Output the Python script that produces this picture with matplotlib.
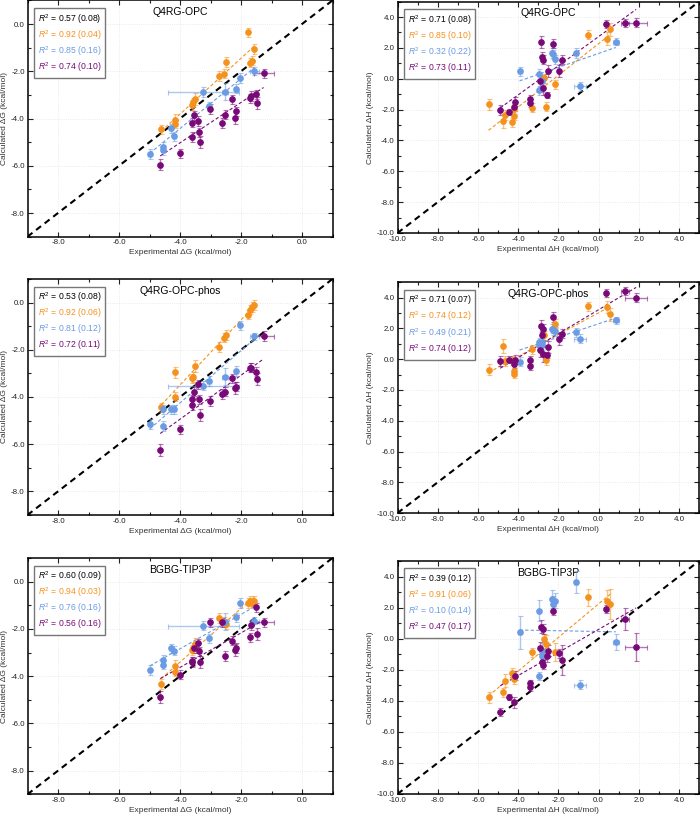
import numpy as np
import matplotlib
matplotlib.use('Agg')
import matplotlib.pyplot as plt
from matplotlib.ticker import MultipleLocator, FormatStrFormatter
from matplotlib.lines import Line2D

plt.rcParams['font.family'] = ['Liberation Sans', 'DejaVu Sans']
plt.rcParams['mathtext.fontset'] = 'custom'
plt.rcParams['mathtext.rm'] = 'Liberation Sans'
plt.rcParams['mathtext.it'] = 'Liberation Sans:italic'

ORANGE = '#f5921e'
BLUE = '#6a9be3'
PURPLE = '#780a78'

models = ['Q4RG-OPC', 'Q4RG-OPC-phos', 'BGBG-TIP3P']

# ---- free energies (dG) ----
orange_exp_g = [-1.57, -1.65, -1.72, -1.78, -2.49, -2.57, -2.73, -3.52, -3.56, -3.60, -4.15, -4.17, -4.61]
orange_exp_g_err = [0.03] * 13
orange_g_opc = [-1.06, -1.55, -1.64, -0.35, -1.60, -2.10, -2.20, -3.18, -3.32, -3.43, -4.07, -4.22, -4.46]
orange_g_phos = [-0.10, -0.18, -0.30, -0.51, -1.38, -1.48, -1.89, -2.69, -3.15, -3.21, -2.96, -3.99, -4.44]
orange_g_tip3p = [-0.83, -0.89, -0.83, -0.90, -1.79, -1.70, -1.54, -2.64, -2.81, -2.89, -3.55, -3.81, -4.34]
orange_g_err = [0.2, 0.2, 0.2, 0.2, 0.2, 0.2, 0.2, 0.25, 0.2, 0.2, 0.25, 0.2, 0.2]

blue_exp_g = [-1.56, -2.03, -2.15, -2.51, -3.23, -3.05, -4.31, -4.19, -4.57, -4.57, -4.99]
blue_exp_g_err = [0.15, 0.03, 0.05, 0.10, 1.15, 0.05, 0.05, 0.05, 0.03, 0.03, 0.05]
blue_g_opc = [-1.99, -2.29, -2.73, -2.86, -2.87, -3.48, -4.42, -4.75, -5.20, -5.34, -5.51]
blue_g_phos = [-1.42, -0.96, -2.89, -3.14, -3.52, -3.32, -4.52, -4.52, -4.52, -5.23, -5.15]
blue_g_tip3p = [-1.65, -0.90, -1.51, -1.69, -1.86, -2.40, -2.82, -2.92, -3.30, -3.51, -3.74]
blue_g_err = [0.15, 0.2, 0.2, 0.35, 0.2, 0.2, 0.2, 0.2, 0.2, 0.2, 0.2]

purple_exp_g = [-1.26, -1.51, -1.68, -1.70, -1.46, -2.28, -2.16, -2.19, -2.52, -2.61,
                -3.02, -3.53, -3.61, -3.40, -3.39, -3.61, -3.36, -4.00, -4.65]
purple_exp_g_err = [0.33] + [0.03] * 18
purple_g_opc = [-2.09, -2.98, -3.04, -3.15, -3.34, -3.19, -3.70, -3.97, -3.83, -4.18,
                -3.59, -3.87, -4.17, -4.11, -4.59, -4.78, -4.99, -5.48, -5.95]
purple_g_phos = [-1.42, -2.93, -2.76, -2.76, -3.25, -3.21, -3.56, -3.63, -3.77, -3.87,
                 -4.17, -3.77, -4.10, -3.46, -4.10, -4.34, -4.76, -5.37, -6.24]
purple_g_tip3p = [-1.73, -1.09, -1.85, -2.36, -2.21, -2.50, -2.81, -2.89, -3.15, -1.73,
                  -1.72, -2.82, -3.37, -2.61, -2.95, -3.41, -3.41, -3.94, -4.87]
purple_g_err = [0.2, 0.2, 0.2, 0.2, 0.25, 0.2, 0.2, 0.25, 0.2, 0.2,
                0.2, 0.2, 0.2, 0.2, 0.2, 0.2, 0.25, 0.2, 0.25]

# ---- enthalpies (dH) ----
orange_exp_h = [-5.47, -4.74, -4.66, -4.29, -4.21, -4.21, -3.30, -2.59, -2.69, -2.19, -0.50, 0.44, 0.59]
orange_exp_h_err = [0.05] * 13
orange_h_opc = [-1.66, -2.72, -2.35, -2.83, -2.40, -1.97, -1.88, -1.82, 0.02, -0.35, 2.86, 2.60, 3.20]
orange_h_phos = [-0.69, 0.85, -0.12, -0.08, -0.78, -0.95, 0.64, -0.06, 1.55, 2.31, 3.44, 3.39, 2.91]
orange_h_tip3p = [-3.77, -3.45, -2.70, -2.21, -2.38, -2.59, -0.87, -0.34, -0.02, -0.87, 2.67, 2.45, 2.24]
orange_h_err = [0.35, 0.45, 0.3, 0.3, 0.3, 0.3, 0.3, 0.3, 0.3, 0.3, 0.3, 0.4, 0.4]
orange_h_err_tip3p = [0.35, 0.3, 0.4, 0.3, 0.3, 0.3, 0.3, 0.6, 0.3, 0.6, 0.55, 0.7, 0.95]

blue_exp_h = [0.86, -1.10, -0.93, -2.30, -2.26, -2.19, -3.93, -2.97, -2.79, -2.97, -2.79]
blue_exp_h_err = [0.15, 0.1, 0.3, 0.05, 0.05, 0.05, 0.1, 0.05, 0.05, 0.05, 0.05]
blue_h_opc = [2.41, 1.67, -0.48, 1.67, 1.59, 1.26, 0.49, 0.30, -0.14, -0.74, -0.57]
blue_h_phos = [2.52, 1.76, 1.33, 1.98, 1.87, 1.81, -0.15, 1.11, 0.90, 0.94, 1.11]
blue_h_tip3p = [-0.23, 3.63, -2.96, 2.56, 2.24, 2.45, 0.41, 1.81, -0.81, -2.38, -1.09]
blue_h_err = [0.25, 0.3, 0.3, 0.3, 0.3, 0.3, 0.3, 0.3, 0.3, 0.3, 0.3]
blue_h_err_tip3p = [0.5, 0.7, 0.3, 0.6, 0.5, 0.5, 1.05, 0.7, 0.5, 0.25, 0.4]

purple_exp_h = [1.87, 1.30, 0.39, -1.81, -1.97, -2.27, -2.50, -2.55, -2.87, -2.82,
                -2.75, -2.93, -2.75, -3.40, -3.40, -4.14, -4.21, -4.47, -4.89]
purple_exp_h_err = [0.55, 0.2] + [0.05] * 17
purple_h_opc = [3.63, 3.61, 3.53, 1.24, 0.51, 2.28, 0.49, -1.06, 2.38, 1.42,
                1.24, -0.14, -0.57, -1.30, -1.56, -1.49, -1.82, -2.14, -2.03]
purple_h_phos = [4.00, 4.43, 4.30, 1.66, 1.33, 2.74, 0.79, 0.29, 2.15, 1.55,
                 1.98, 0.57, 0.35, -0.45, -0.04, -0.02, -0.30, -0.02, -0.12]
purple_h_tip3p = [-0.51, 1.27, 1.92, -1.37, -0.94, 1.81, -0.77, -1.09, 0.78, -1.52,
                  0.63, -0.60, -1.67, -2.87, -3.09, -2.38, -4.10, -3.77, -4.74]
purple_h_err = [0.3, 0.25, 0.25, 0.3, 0.4, 0.3, 0.4, 0.2, 0.4, 0.3,
                0.3, 0.4, 0.5, 0.25, 0.25, 0.3, 0.3, 0.2, 0.3]
purple_h_err_tip3p = [0.9, 0.7, 0.25, 0.95, 0.3, 0.3, 0.35, 0.4, 0.4, 0.3,
                      0.3, 0.4, 0.3, 0.2, 0.25, 0.3, 0.35, 0.2, 0.25]

# R^2 (std) labels: all, orange, blue, purple
r2_g = [['0.57 (0.08)', '0.92 (0.04)', '0.85 (0.16)', '0.74 (0.10)'],
        ['0.53 (0.08)', '0.92 (0.06)', '0.81 (0.12)', '0.72 (0.11)'],
        ['0.60 (0.09)', '0.94 (0.03)', '0.76 (0.16)', '0.56 (0.16)']]
r2_h = [['0.71 (0.08)', '0.85 (0.10)', '0.32 (0.22)', '0.73 (0.11)'],
        ['0.71 (0.07)', '0.74 (0.12)', '0.49 (0.21)', '0.74 (0.12)'],
        ['0.39 (0.12)', '0.91 (0.06)', '0.10 (0.14)', '0.47 (0.17)']]

colors = [ORANGE, BLUE, PURPLE]

g_sets = [
    [orange_g_opc, blue_g_opc, purple_g_opc],
    [orange_g_phos, blue_g_phos, purple_g_phos],
    [orange_g_tip3p, blue_g_tip3p, purple_g_tip3p],
]
h_sets = [
    [orange_h_opc, blue_h_opc, purple_h_opc],
    [orange_h_phos, blue_h_phos, purple_h_phos],
    [orange_h_tip3p, blue_h_tip3p, purple_h_tip3p],
]
g_exp = [orange_exp_g, blue_exp_g, purple_exp_g]
g_exp_err = [orange_exp_g_err, blue_exp_g_err, purple_exp_g_err]
g_err = [orange_g_err, blue_g_err, purple_g_err]
h_exp = [orange_exp_h, blue_exp_h, purple_exp_h]
h_exp_err = [orange_exp_h_err, blue_exp_h_err, purple_exp_h_err]
h_err = [orange_h_err, blue_h_err, purple_h_err]
h_err_tip3p = [orange_h_err_tip3p, blue_h_err_tip3p, purple_h_err_tip3p]


def draw_panel(ax, xs, xerrs, ys, yerrs, r2, title, lims, major, qty):
    ax.set_xlim(*lims[0])
    ax.set_ylim(*lims[1])
    ax.grid(True, which='major', color='#e4e4e4', linestyle=':', linewidth=0.6)
    ax.set_axisbelow(True)
    ax.axline((0, 0), slope=1, color='black', linestyle=(0, (3, 2.2)), linewidth=1.5, zorder=2)

    for x, xe, y, ye, c in zip(xs, xerrs, ys, yerrs, colors):
        x = np.array(x)
        y = np.array(y)
        ax.errorbar(x, y, xerr=xe, yerr=ye, fmt='o', color=c, ms=3.8, mec=c,
                    ecolor=matplotlib.colors.to_rgba(c, 0.55), elinewidth=1.0,
                    capsize=1.8, capthick=0.8, zorder=4)
        slope, icpt = np.polyfit(x, y, 1)
        xx = np.array([x.min(), x.max()])
        ax.plot(xx, slope * xx + icpt, color=c, linestyle=(0, (3, 2)), linewidth=0.8, zorder=3)

    for sp in ax.spines.values():
        sp.set_linewidth(1.1)
    ax.xaxis.set_major_locator(MultipleLocator(major))
    ax.yaxis.set_major_locator(MultipleLocator(major))
    ax.xaxis.set_minor_locator(MultipleLocator(1))
    ax.yaxis.set_minor_locator(MultipleLocator(1))
    ax.xaxis.set_major_formatter(FormatStrFormatter('%.1f'))
    ax.yaxis.set_major_formatter(FormatStrFormatter('%.1f'))
    ax.tick_params(which='both', direction='in', top=True, right=True, labelsize=5.7,
                   pad=2, width=0.8, colors='#222222')
    ax.tick_params(which='major', length=3.5)
    ax.tick_params(which='minor', length=2)

    ax.set_xlabel(f'Experimental \u0394{qty} (kcal/mol)', fontsize=6, labelpad=2, color='#333333')
    ax.set_ylabel(f'Calculated \u0394{qty} (kcal/mol)', fontsize=6, labelpad=2, color='#333333')
    ax.text(0.5, 0.95, title, transform=ax.transAxes, ha='center', va='center', fontsize=7.5)

    handles = [Line2D([], [], linestyle='none') for _ in range(4)]
    labels = [f'$R^2$ = {s}' for s in r2]
    leg = ax.legend(handles, labels, loc='upper left', bbox_to_anchor=(0.021, 0.968),
                    borderaxespad=0, handlelength=0, handletextpad=0, fontsize=6.2,
                    labelcolor=['black'] + colors, frameon=True, fancybox=False,
                    borderpad=0.45, labelspacing=0.28)
    leg.get_frame().set_edgecolor('#555555')
    leg.get_frame().set_linewidth(1.0)
    leg.set_zorder(5)


fig = plt.figure(figsize=(7, 8.16), dpi=100)

left_pos = [(0.0393, 0.7100, 0.4357, 0.2895),
            (0.0393, 0.3689, 0.4357, 0.2892),
            (0.0393, 0.0266, 0.4357, 0.2896)]
right_pos = [(0.5679, 0.7145, 0.4307, 0.2835),
             (0.5679, 0.3713, 0.4307, 0.2827),
             (0.5679, 0.0270, 0.4307, 0.2855)]

for i in range(3):
    axg = fig.add_axes(left_pos[i])
    draw_panel(axg, g_exp, g_exp_err, g_sets[i], g_err, r2_g[i], models[i],
               ((-9, 1), (-9, 1)), 2, 'G')
    axh = fig.add_axes(right_pos[i])
    errs = h_err_tip3p if i == 2 else h_err
    draw_panel(axh, h_exp, h_exp_err, h_sets[i], errs, r2_h[i], models[i],
               ((-10, 5), (-10, 5)), 2, 'H')

fig.savefig('out.png', dpi=100)
